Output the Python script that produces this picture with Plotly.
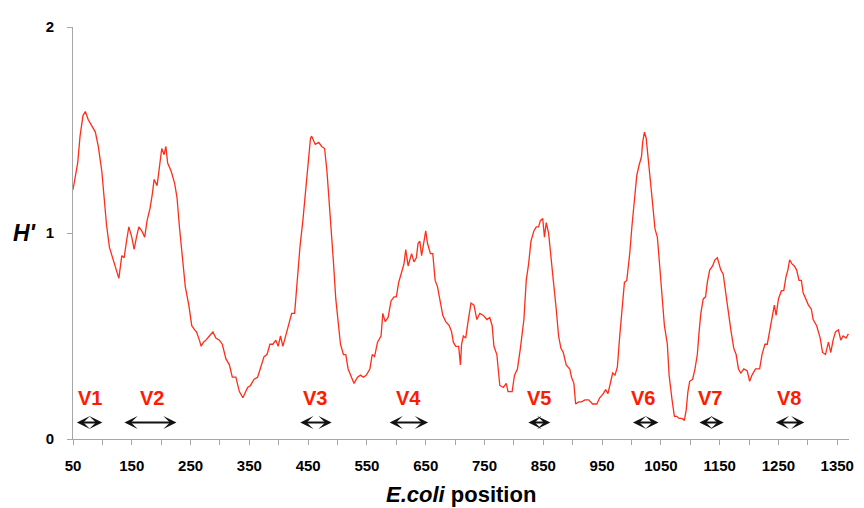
import plotly.graph_objects as go

position = [50, 54, 58, 62, 67, 71, 76, 82, 88, 93, 99, 103, 107, 112, 118, 123, 128, 133, 137, 141,
            145, 150, 154, 158, 162, 167, 172, 176, 181, 185, 188, 193, 197, 201, 205, 208, 211, 217, 223, 227,
            231, 237, 241, 247, 252, 257, 260, 265, 268, 272, 276, 282, 288, 293, 299, 304, 310, 316, 321, 327,
            333, 339, 347, 352, 358, 364, 369, 375, 380, 385, 390, 395, 399, 403, 407, 412, 417, 422, 427, 431,
            436, 441, 445, 450, 454, 456, 462, 468, 473, 478, 482, 486, 490, 493, 497, 501, 505, 510, 514, 518,
            523, 528, 534, 539, 544, 549, 555, 559, 563, 568, 574, 577, 581, 586, 591, 596, 600, 604, 608, 613,
            616, 620, 623, 626, 630, 634, 637, 640, 643, 647, 650, 653, 658, 662, 666, 670, 675, 679, 684, 690,
            694, 697, 701, 706, 709, 711, 714, 718, 722, 727, 732, 737, 742, 748, 754, 759, 763, 766, 771, 773,
            776, 782, 787, 790, 794, 797, 801, 806, 811, 817, 821, 825, 829, 834, 838, 842, 845, 849, 852, 855,
            859, 863, 867, 872, 876, 880, 884, 889, 895, 898, 902, 905, 910, 915, 921, 927, 934, 941, 946, 952,
            956, 960, 964, 968, 972, 976, 980, 985, 988, 992, 997, 1001, 1006, 1009, 1013, 1017, 1019, 1022, 1025, 1028,
            1032, 1036, 1040, 1044, 1048, 1052, 1056, 1061, 1064, 1069, 1073, 1077, 1081, 1086, 1090, 1093, 1096, 1099, 1104, 1108,
            1112, 1115, 1118, 1122, 1126, 1129, 1133, 1138, 1142, 1146, 1149, 1152, 1156, 1160, 1165, 1169, 1174, 1178, 1182, 1186,
            1191, 1197, 1201, 1205, 1211, 1218, 1222, 1227, 1231, 1235, 1239, 1243, 1246, 1250, 1255, 1259, 1263, 1266, 1269, 1273,
            1277, 1281, 1285, 1289, 1292, 1297, 1301, 1306, 1309, 1315, 1321, 1325, 1330, 1335, 1339, 1343, 1347, 1352, 1356, 1360,
            1365, 1369]

h_prime = [1.21, 1.28, 1.34, 1.47, 1.57, 1.59, 1.55, 1.52, 1.49, 1.42, 1.30, 1.17, 1.04, 0.93, 0.87, 0.82, 0.78, 0.89, 0.88, 0.96,
           1.03, 0.98, 0.92, 0.98, 1.03, 1.01, 0.98, 1.06, 1.12, 1.19, 1.26, 1.23, 1.31, 1.41, 1.38, 1.42, 1.34, 1.30, 1.24, 1.17,
           1.03, 0.87, 0.74, 0.65, 0.55, 0.53, 0.52, 0.48, 0.45, 0.47, 0.48, 0.50, 0.52, 0.49, 0.48, 0.46, 0.39, 0.36, 0.30, 0.30,
           0.23, 0.20, 0.25, 0.26, 0.29, 0.30, 0.35, 0.40, 0.41, 0.46, 0.46, 0.48, 0.45, 0.50, 0.45, 0.50, 0.55, 0.61, 0.61, 0.77,
           0.93, 1.06, 1.19, 1.34, 1.46, 1.47, 1.43, 1.44, 1.42, 1.41, 1.30, 1.14, 0.95, 0.86, 0.68, 0.55, 0.46, 0.41, 0.41, 0.34,
           0.30, 0.27, 0.30, 0.31, 0.30, 0.31, 0.34, 0.41, 0.40, 0.47, 0.50, 0.61, 0.57, 0.59, 0.67, 0.69, 0.69, 0.76, 0.80, 0.85,
           0.92, 0.84, 0.87, 0.90, 0.86, 0.88, 0.95, 0.96, 0.89, 0.96, 1.01, 0.95, 0.90, 0.90, 0.77, 0.74, 0.66, 0.60, 0.57, 0.55,
           0.52, 0.47, 0.45, 0.45, 0.36, 0.46, 0.50, 0.49, 0.57, 0.66, 0.65, 0.58, 0.61, 0.60, 0.58, 0.59, 0.55, 0.45, 0.41, 0.33,
           0.26, 0.25, 0.27, 0.23, 0.23, 0.23, 0.31, 0.34, 0.44, 0.58, 0.77, 0.85, 0.96, 1.01, 1.03, 1.03, 1.06, 1.07, 0.98, 1.05,
           1.00, 0.90, 0.77, 0.63, 0.50, 0.44, 0.42, 0.36, 0.34, 0.30, 0.27, 0.17, 0.18, 0.18, 0.19, 0.19, 0.17, 0.17, 0.20, 0.22,
           0.24, 0.22, 0.27, 0.32, 0.31, 0.35, 0.50, 0.65, 0.76, 0.77, 0.90, 1.04, 1.17, 1.28, 1.33, 1.37, 1.44, 1.49, 1.46, 1.38,
           1.27, 1.14, 1.02, 0.98, 0.84, 0.69, 0.55, 0.46, 0.31, 0.19, 0.11, 0.11, 0.10, 0.10, 0.09, 0.14, 0.23, 0.28, 0.29, 0.34,
           0.41, 0.52, 0.61, 0.68, 0.69, 0.76, 0.82, 0.84, 0.87, 0.88, 0.85, 0.82, 0.80, 0.71, 0.61, 0.53, 0.44, 0.41, 0.34, 0.32,
           0.34, 0.33, 0.28, 0.31, 0.34, 0.34, 0.41, 0.46, 0.46, 0.53, 0.60, 0.65, 0.60, 0.68, 0.72, 0.72, 0.79, 0.82, 0.87, 0.85,
           0.84, 0.82, 0.77, 0.77, 0.71, 0.68, 0.65, 0.63, 0.58, 0.55, 0.49, 0.42, 0.41, 0.47, 0.42, 0.48, 0.52, 0.53, 0.48, 0.50,
           0.49, 0.51]

region_labels = ["V1", "V2", "V3", "V4", "V5", "V6", "V7", "V8"]
region_start = [54, 135, 434, 586, 822, 1000, 1113, 1243]
region_end = [100, 226, 490, 654, 862, 1046, 1157, 1294]
label_pos = [79, 184, 461, 621, 843, 1020, 1133, 1268]

x_tickvals = list(range(50, 1351, 50))
x_ticktext = [str(v) if (v - 50) % 100 == 0 else "" for v in x_tickvals]

FONT = "Liberation Sans, Arial, sans-serif"

fig = go.Figure()
fig.add_trace(go.Scatter(x=position, y=h_prime, mode="lines",
                         line=dict(color="#FF2D19", width=1.3), showlegend=False))

annotations = []
for lab, s, e, c in zip(region_labels, region_start, region_end, label_pos):
    annotations.append(dict(x=e, y=0.08, ax=s, ay=0.08, xref="x", yref="y", axref="x", ayref="y",
                            text="", showarrow=True, arrowhead=3, startarrowhead=3, arrowside="end+start",
                            arrowsize=1.0, startarrowsize=1.0, arrowwidth=2.2, arrowcolor="#111111",
                            standoff=0, startstandoff=0))
    annotations.append(dict(x=c, y=0.2, xref="x", yref="y", text="<b>" + lab + "</b>", showarrow=False,
                            font=dict(family=FONT, size=20, color="#FF1A00"), xanchor="center", yanchor="middle"))

annotations.append(dict(x=-0.062, y=1, xref="paper", yref="y", text="<b><i>H'</i></b>", showarrow=False,
                        font=dict(family=FONT, size=23, color="black"), xanchor="center", yanchor="middle"))
annotations.append(dict(x=0.5, y=0, xref="paper", yref="paper", yshift=-55,
                        text="<b><i>E.coli</i> position</b>", showarrow=False,
                        font=dict(family=FONT, size=22, color="black"), xanchor="center", yanchor="middle"))

fig.update_layout(
    width=856, height=500,
    margin=dict(l=65, r=10, t=11, b=69),
    paper_bgcolor="white", plot_bgcolor="white",
    annotations=annotations,
    xaxis=dict(range=[50, 1370], tickmode="array", tickvals=x_tickvals, ticktext=x_ticktext,
               showgrid=False, zeroline=False, showline=True, linecolor="#A6A6A6", linewidth=1,
               ticks="outside", ticklen=5, tickcolor="#A6A6A6", ticklabelstandoff=8,
               tickfont=dict(family=FONT, size=15, color="black", weight="bold")),
    yaxis=dict(range=[0, 2], tickmode="array", tickvals=[0, 1, 2], ticktext=["0", "1", "2"],
               showgrid=False, zeroline=False, showline=True, linecolor="#A6A6A6", linewidth=1,
               ticks="outside", ticklen=5, tickcolor="#A6A6A6", ticklabelstandoff=10,
               tickfont=dict(family=FONT, size=15, color="black", weight="bold")),
)

fig.write_html("out.html")
